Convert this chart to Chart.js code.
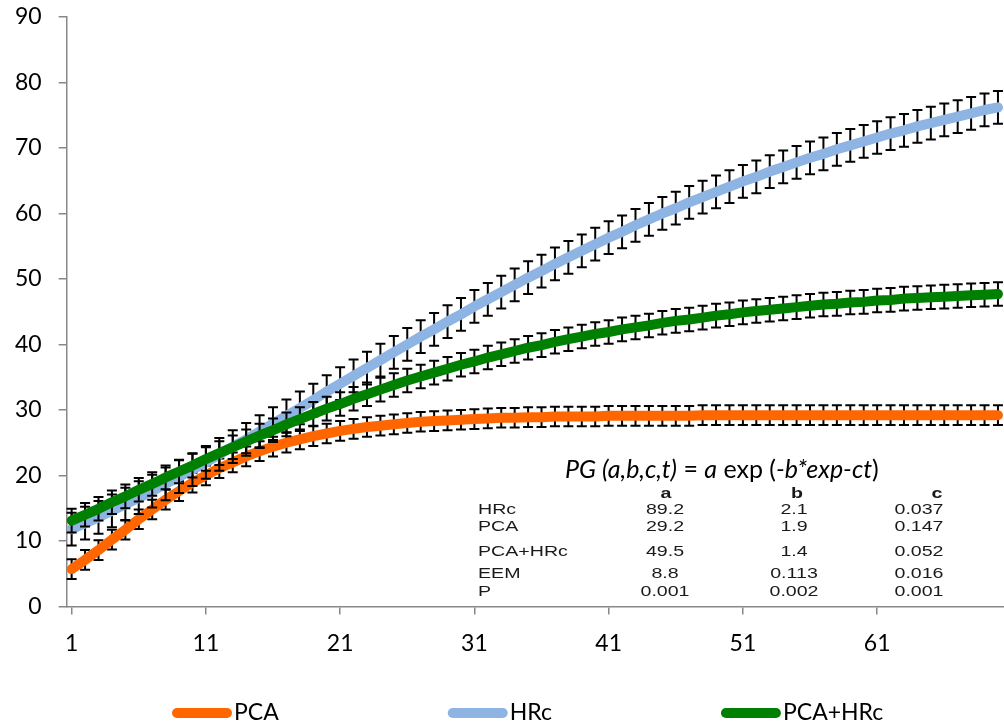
<!DOCTYPE html>
<html lang="en">
<head>
<meta charset="utf-8">
<title>PG curves</title>
<script src="https://cdn.jsdelivr.net/npm/chart.js@4.4.1/dist/chart.umd.min.js"></script>
<style>
  html, body { margin: 0; padding: 0; background: #fff; }
  #wrap { width: 1004px; height: 728px; }
</style>
</head>
<body>
<div id="wrap"><canvas id="chart" width="1004" height="728"></canvas></div>
<script>
// days on the x axis
const days = [1, 2, 3, 4, 5, 6, 7, 8, 9, 10, 11, 12, 13, 14, 15, 16, 17, 18, 19, 20,
  21, 22, 23, 24, 25, 26, 27, 28, 29, 30, 31, 32, 33, 34, 35, 36, 37, 38, 39, 40,
  41, 42, 43, 44, 45, 46, 47, 48, 49, 50, 51, 52, 53, 54, 55, 56, 57, 58, 59, 60,
  61, 62, 63, 64, 65, 66, 67, 68, 69, 70];
const xTickLabels = [1, 11, 21, 31, 41, 51, 61];

const pca = [5.7, 7.1, 8.6, 10.2, 11.7, 13.3, 14.8, 16.3, 17.6, 18.9,
  20.0, 21.1, 22.0, 22.9, 23.7, 24.4, 25.0, 25.5, 26.0, 26.4,
  26.8, 27.1, 27.4, 27.6, 27.8, 28.0, 28.2, 28.3, 28.4, 28.5,
  28.6, 28.7, 28.8, 28.8, 28.9, 28.9, 29.0, 29.0, 29.0, 29.0,
  29.1, 29.1, 29.1, 29.1, 29.1, 29.1, 29.1, 29.2, 29.2, 29.2,
  29.2, 29.2, 29.2, 29.2, 29.2, 29.2, 29.2, 29.2, 29.2, 29.2,
  29.2, 29.2, 29.2, 29.2, 29.2, 29.2, 29.2, 29.2, 29.2, 29.2];
const hrc = [11.8, 12.7, 13.6, 14.6, 15.6, 16.6, 17.6, 18.7, 19.8, 20.9,
  22.0, 23.2, 24.4, 25.5, 26.7, 27.9, 29.1, 30.3, 31.5, 32.8,
  34.0, 35.2, 36.4, 37.6, 38.8, 40.0, 41.2, 42.3, 43.5, 44.6,
  45.8, 46.9, 48.0, 49.1, 50.2, 51.2, 52.3, 53.3, 54.3, 55.3,
  56.3, 57.2, 58.2, 59.1, 60.0, 60.8, 61.7, 62.5, 63.3, 64.1,
  64.9, 65.6, 66.4, 67.1, 67.8, 68.5, 69.1, 69.8, 70.4, 71.0,
  71.6, 72.2, 72.7, 73.3, 73.8, 74.3, 74.8, 75.3, 75.8, 76.2];
const pcaHrc = [13.1, 14.0, 14.9, 15.9, 16.8, 17.8, 18.7, 19.7, 20.6, 21.5,
  22.5, 23.4, 24.3, 25.2, 26.1, 26.9, 27.8, 28.6, 29.4, 30.2,
  30.9, 31.7, 32.4, 33.1, 33.8, 34.5, 35.1, 35.7, 36.3, 36.9,
  37.4, 38.0, 38.5, 39.0, 39.5, 39.9, 40.4, 40.8, 41.2, 41.6,
  41.9, 42.3, 42.6, 42.9, 43.3, 43.6, 43.8, 44.1, 44.4, 44.6,
  44.9, 45.1, 45.3, 45.5, 45.7, 45.9, 46.1, 46.2, 46.4, 46.5,
  46.7, 46.8, 47.0, 47.1, 47.2, 47.3, 47.4, 47.5, 47.6, 47.7];

// half height of the error bars (same for every day of a series)
const pcaErr = 1.5;
const hrcErr = 2.5;
const pcaHrcErr = 1.8;

const fitFormula = [['PG (a,b,c,t)', true], [' = ', false], ['a', true], [' exp (', false], ['-b*exp-ct', true], [')', false]];
const tableHead = ['a', 'b', 'c'];
const tableRows = [
  ['HRc', '89.2', '2.1', '0.037'],
  ['PCA', '29.2', '1.9', '0.147'],
  ['PCA+HRc', '49.5', '1.4', '0.052'],
  ['EEM', '8.8', '0.113', '0.016'],
  ['P', '0.001', '0.002', '0.001']
];

const axisGray = '#888888';
const bigFont = 'Lato';

const toPoints = (vals) => vals.map((v, i) => ({ x: days[i], y: v }));

// error bars, drawn just before the line of the same series
const errorBarPlugin = {
  id: 'errorBars',
  beforeDatasetDraw(chart, args) {
    const ds = chart.data.datasets[args.index];
    const { ctx, scales: { x, y } } = chart;
    ctx.save();
    ctx.strokeStyle = '#000';
    ctx.lineWidth = 2;
    ds.data.forEach((p) => {
      const px = x.getPixelForValue(p.x);
      const top = y.getPixelForValue(p.y + ds.errorBar);
      const bot = y.getPixelForValue(p.y - ds.errorBar);
      ctx.beginPath();
      ctx.moveTo(px, top); ctx.lineTo(px, bot);
      ctx.moveTo(px - 5, top); ctx.lineTo(px + 5, top);
      ctx.moveTo(px - 5, bot); ctx.lineTo(px + 5, bot);
      ctx.stroke();
    });
    ctx.restore();
  }
};

// formula and the parameter table
const fitTablePlugin = {
  id: 'fitTable',
  afterDraw(chart) {
    const ctx = chart.ctx;
    ctx.save();
    ctx.fillStyle = '#000';
    ctx.textBaseline = 'alphabetic';
    ctx.textAlign = 'left';
    let fx = 565;
    fitFormula.forEach(([txt, italic]) => {
      ctx.font = (italic ? 'italic ' : '') + '25px ' + bigFont;
      ctx.fillText(txt, fx, 478);
      fx += ctx.measureText(txt).width;
    });

    const stretch = 1.4;
    const put = (txt, x, y, align, bold) => {
      ctx.save();
      ctx.translate(x, y);
      ctx.scale(stretch, 1);
      ctx.font = (bold ? 'bold ' : '') + '14px "Liberation Sans", Arial';
      ctx.textAlign = align;
      ctx.textBaseline = 'middle';
      ctx.fillText(txt, 0, 0);
      ctx.restore();
    };
    ctx.fillStyle = '#1a1a1a';
    const headX = [666, 797, 937];
    tableHead.forEach((h, i) => put(h, headX[i], 494, 'center', true));
    const colX = [665, 794, 919];
    const rowY = [510, 527, 552, 574, 592];
    tableRows.forEach((row, r) => {
      put(row[0], 478, rowY[r], 'left', false);
      for (let c = 1; c < 4; c++) put(row[c], colX[c - 1], rowY[r], 'center', false);
    });
    ctx.restore();
  }
};

// legend at the bottom: rounded thick line + label
const lineLegendPlugin = {
  id: 'lineLegend',
  afterDraw(chart) {
    const ctx = chart.ctx;
    const items = [0, 1, 2].map(i => chart.data.datasets[i]);
    ctx.save();
    ctx.font = '23px ' + bigFont;
    ctx.textBaseline = 'middle';
    ctx.textAlign = 'left';
    let x = 177;
    const y = 713;
    items.forEach((ds) => {
      ctx.strokeStyle = ds.borderColor;
      ctx.lineWidth = 10;
      ctx.lineCap = 'round';
      ctx.beginPath();
      ctx.moveTo(x, y); ctx.lineTo(x + 50, y);
      ctx.stroke();
      ctx.fillStyle = '#000';
      ctx.fillText(ds.label, x + 57, y);
      x += 57 + ctx.measureText(ds.label).width + 174;
    });
    ctx.restore();
  }
};

new Chart(document.getElementById('chart'), {
  type: 'line',
  data: {
    datasets: [
      { label: 'PCA', data: toPoints(pca), borderColor: '#FF6600', errorBar: pcaErr, order: 3 },
      { label: 'HRc', data: toPoints(hrc), borderColor: '#8DB4E2', errorBar: hrcErr, order: 2 },
      { label: 'PCA+HRc', data: toPoints(pcaHrc), borderColor: '#008000', errorBar: pcaHrcErr, order: 1 }
    ]
  },
  options: {
    responsive: false,
    animation: false,
    devicePixelRatio: 1,
    layout: { padding: { top: 17, left: -2, right: 0, bottom: 56 } },
    elements: {
      point: { radius: 0 },
      line: { tension: 0, borderWidth: 10, borderCapStyle: 'round', borderJoinStyle: 'round', fill: false }
    },
    plugins: { legend: { display: false }, tooltip: { enabled: false } },
    scales: {
      x: {
        type: 'linear', min: 0.63, max: 70.45,
        afterBuildTicks: (s) => { s.ticks = xTickLabels.map(v => ({ value: v })); },
        grid: { drawOnChartArea: false, tickLength: 8, color: axisGray, lineWidth: 1.5 },
        border: { color: axisGray, width: 1.5 },
        ticks: { font: { family: bigFont, size: 23 }, color: '#000', padding: 15, autoSkip: false, maxRotation: 0 }
      },
      y: {
        min: 0, max: 90,
        // the top label may stick out above the plot, as in the original
        afterFit: (s) => { s.paddingTop = 0; },
        grid: { drawOnChartArea: false, tickLength: 8, color: axisGray, lineWidth: 1.5 },
        border: { color: axisGray, width: 1.5 },
        ticks: { stepSize: 10, font: { family: bigFont, size: 23 }, color: '#000', padding: 17 }
      }
    }
  },
  plugins: [errorBarPlugin, fitTablePlugin, lineLegendPlugin]
});
</script>
</body>
</html>
